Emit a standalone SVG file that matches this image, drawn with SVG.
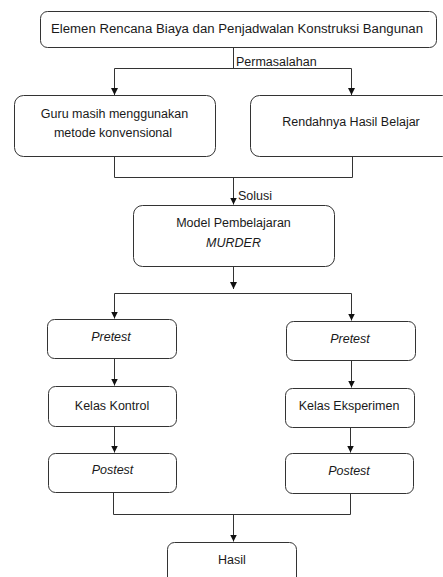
<svg xmlns="http://www.w3.org/2000/svg" width="443" height="577" viewBox="0 0 443 577">
<style>
.box{fill:#fff;stroke:#333;stroke-width:1}
.t{font-family:"Liberation Sans",Arial,sans-serif;font-size:12.5px;fill:#1a1a1a;text-anchor:middle}
.i{font-style:italic}
.lbl{text-anchor:start}
.c{fill:none;stroke:#333;stroke-width:1}
</style>
<defs>
<marker id="ah" markerUnits="userSpaceOnUse" markerWidth="7" markerHeight="7" viewBox="0 0 7 7" refX="7" refY="3.5" orient="auto">
<path d="M0,0 L7,3.5 L0,7 z" fill="#111"/>
</marker>
</defs>
<rect width="443" height="577" fill="#fff"/>
<g id="connectors">
<path class="c" d="M233.5,47.5 V68.5"/>
<path class="c" d="M114.5,68.5 H351.5"/>
<path class="c" d="M114.5,68.5 V95" marker-end="url(#ah)"/>
<path class="c" d="M351.5,68.5 V95" marker-end="url(#ah)"/>
<path class="c" d="M114.5,156.5 V177.5 H352.5 V156.5"/>
<path class="c" d="M233.5,177.5 V204.5" marker-end="url(#ah)"/>
<path class="c" d="M233.5,266.5 V289" marker-end="url(#ah)"/>
<path class="c" d="M114.5,293.5 H351.5"/>
<path class="c" d="M114.5,293.5 V318.5" marker-end="url(#ah)"/>
<path class="c" d="M351.5,293.5 V320.5" marker-end="url(#ah)"/>
<path class="c" d="M114.5,358.5 V385.5" marker-end="url(#ah)"/>
<path class="c" d="M351.5,360.5 V387.5" marker-end="url(#ah)"/>
<path class="c" d="M114.5,426.5 V452.5" marker-end="url(#ah)"/>
<path class="c" d="M350.5,427.5 V452.5" marker-end="url(#ah)"/>
<path class="c" d="M113.5,492.5 V514.5 H350.5 V493.5"/>
<path class="c" d="M233.5,514.5 V541.5" marker-end="url(#ah)"/>
<text class="t lbl" x="236" y="66">Permasalahan</text>
<text class="t lbl" x="238" y="200">Solusi</text>
</g>
<g id="n-elemen">
<rect class="box" x="40.5" y="11.5" width="396" height="36" rx="7"/>
<text class="t" x="237" y="33" textLength="372" lengthAdjust="spacingAndGlyphs">Elemen Rencana Biaya dan Penjadwalan Konstruksi  Bangunan</text>
</g>
<g id="n-guru">
<rect class="box" x="14.5" y="95.5" width="201" height="61" rx="9"/>
<text class="t" x="114.5" y="118">Guru masih menggunakan</text>
<text class="t" x="113" y="136.5">metode konvensional</text>
</g>
<g id="n-rendah">
<rect class="box" x="250.5" y="95.5" width="201" height="61" rx="9"/>
<text class="t" x="351" y="126">Rendahnya  Hasil Belajar</text>
</g>
<g id="n-model">
<rect class="box" x="133.5" y="205.5" width="201" height="61" rx="9"/>
<text class="t" x="233.5" y="227">Model Pembelajaran</text>
<text class="t i" x="233.5" y="246.5">MURDER</text>
</g>
<g id="n-pretest-k">
<rect class="box" x="47.5" y="319.5" width="129" height="39" rx="7"/>
<text class="t i" x="111" y="340.5">Pretest</text>
</g>
<g id="n-pretest-e">
<rect class="box" x="286.5" y="321.5" width="129" height="39" rx="7"/>
<text class="t i" x="350" y="342.5">Pretest</text>
</g>
<g id="n-kontrol">
<rect class="box" x="48.5" y="386.5" width="128" height="40" rx="7"/>
<text class="t" x="112" y="409.5">Kelas Kontrol</text>
</g>
<g id="n-eksperimen">
<rect class="box" x="285.5" y="388.5" width="129" height="39" rx="7"/>
<text class="t" x="349" y="409.5">Kelas Eksperimen</text>
</g>
<g id="n-postest-k">
<rect class="box" x="48.5" y="453.5" width="128" height="39" rx="7"/>
<text class="t i" x="112.5" y="474">Postest</text>
</g>
<g id="n-postest-e">
<rect class="box" x="285.5" y="453.5" width="128" height="40" rx="7"/>
<text class="t i" x="349" y="475">Postest</text>
</g>
<g id="n-hasil">
<rect class="box" x="167.5" y="542.5" width="129" height="50" rx="7"/>
<text class="t" x="232" y="564">Hasil</text>
</g>
</svg>
